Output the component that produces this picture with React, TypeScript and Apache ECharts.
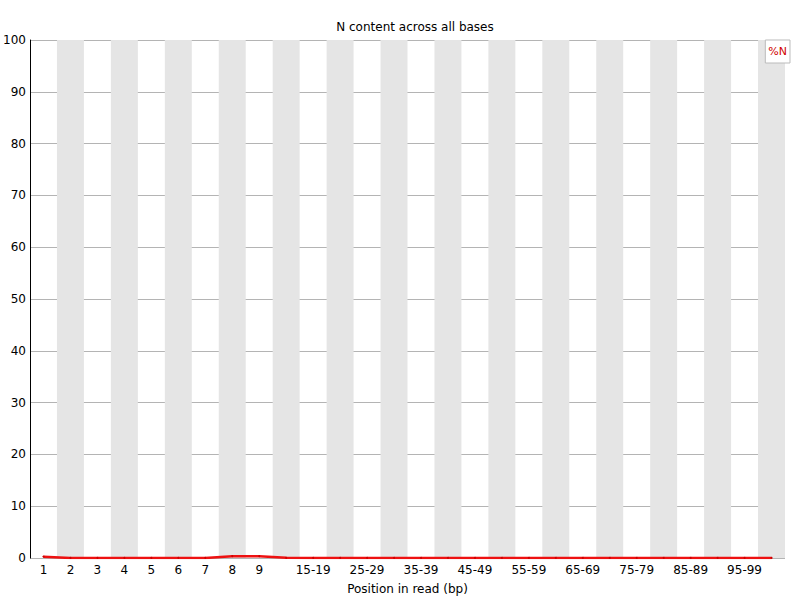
import React, { useEffect, useRef } from "react";
import * as echarts from "echarts";

const categories = [
  "1", "2", "3", "4", "5", "6", "7", "8", "9",
  "10-14", "15-19", "20-24", "25-29", "30-34", "35-39", "40-44", "45-49",
  "50-54", "55-59", "60-64", "65-69", "70-74", "75-79", "80-84", "85-89",
  "90-94", "95-99", "100-101",
];
const nContent = [
  0.25, 0.02, 0.02, 0.02, 0.02, 0.02, 0.02, 0.35, 0.35,
  0.03, 0.02, 0.02, 0.02, 0.02, 0.02, 0.02, 0.02,
  0.02, 0.02, 0.02, 0.02, 0.02, 0.02, 0.02, 0.02,
  0.02, 0.02, 0.02,
];
const yTicks = [0, 10, 20, 30, 40, 50, 60, 70, 80, 90, 100];

const FONT = "DejaVu Sans";

export default function App() {
  const ref = useRef<HTMLDivElement>(null);
  useEffect(() => {
    if (!ref.current) return;
    const chart = echarts.init(ref.current, null, { renderer: "svg" });
    chart.setOption({
      animation: false,
      backgroundColor: "#ffffff",
      textStyle: { fontFamily: FONT },
      title: {
        text: "N content across all bases",
        left: 410,
        top: 16,
        textAlign: "center",
        textStyle: { fontFamily: FONT, fontSize: 12, fontWeight: "normal", color: "#000" },
      },
      legend: {
        right: 10,
        top: 40,
        orient: "vertical",
        itemWidth: 0,
        itemHeight: 0,
        itemGap: 0,
        padding: [6, 3, 6, 3],
        borderColor: "#bbbbbb",
        borderWidth: 1,
        backgroundColor: "#ffffff",
        icon: "none",
        textStyle: { fontFamily: FONT, fontSize: 11, color: "#d00000", padding: [0, 0, 0, -5] },
        data: [{ name: "%N", icon: "none" }],
      },
      grid: { left: 30, right: 15, top: 40, bottom: 40, containLabel: false },
      xAxis: {
        type: "category",
        data: categories,
        boundaryGap: true,
        name: "Position in read (bp)",
        nameLocation: "middle",
        nameGap: 25,
        nameTextStyle: { fontFamily: FONT, fontSize: 12, color: "#000" },
        axisLine: { show: false },
        axisTick: { show: false },
        axisLabel: {
          interval: (i: number) => i < 9 || (i >= 10 && i < 27 && (i - 10) % 2 === 0),
          fontFamily: FONT,
          fontSize: 12,
          color: "#000",
          margin: 6,
        },
        splitLine: { show: false },
        splitArea: {
          show: true,
          interval: 0,
          areaStyle: { color: ["rgba(255,255,255,0)", "#e5e5e5"] },
        },
      },
      yAxis: {
        type: "value",
        min: 0,
        max: 100,
        interval: 10,
        axisLine: { show: true, lineStyle: { color: "#000", width: 1 } },
        axisTick: { show: false },
        axisLabel: {
          fontFamily: FONT,
          fontSize: 12,
          color: "#000",
          margin: 4,
          formatter: (v: number) => (yTicks.includes(v) ? String(v) : ""),
        },
        splitLine: { show: true, lineStyle: { color: "#b4b4b4", width: 1 } },
      },
      series: [
        {
          name: "%N",
          type: "line",
          data: nContent,
          symbol: "circle",
          symbolSize: 2,
          showSymbol: true,
          smooth: false,
          z: 10,
          itemStyle: { color: "#cc0000" },
          lineStyle: { color: "#ee1111", width: 2.5 },
        },
      ],
    });
    return () => chart.dispose();
  }, []);
  return (
    <div
      ref={ref}
      style={{ position: "absolute", left: 0, top: 0, width: 800, height: 600 }}
    />
  );
}
